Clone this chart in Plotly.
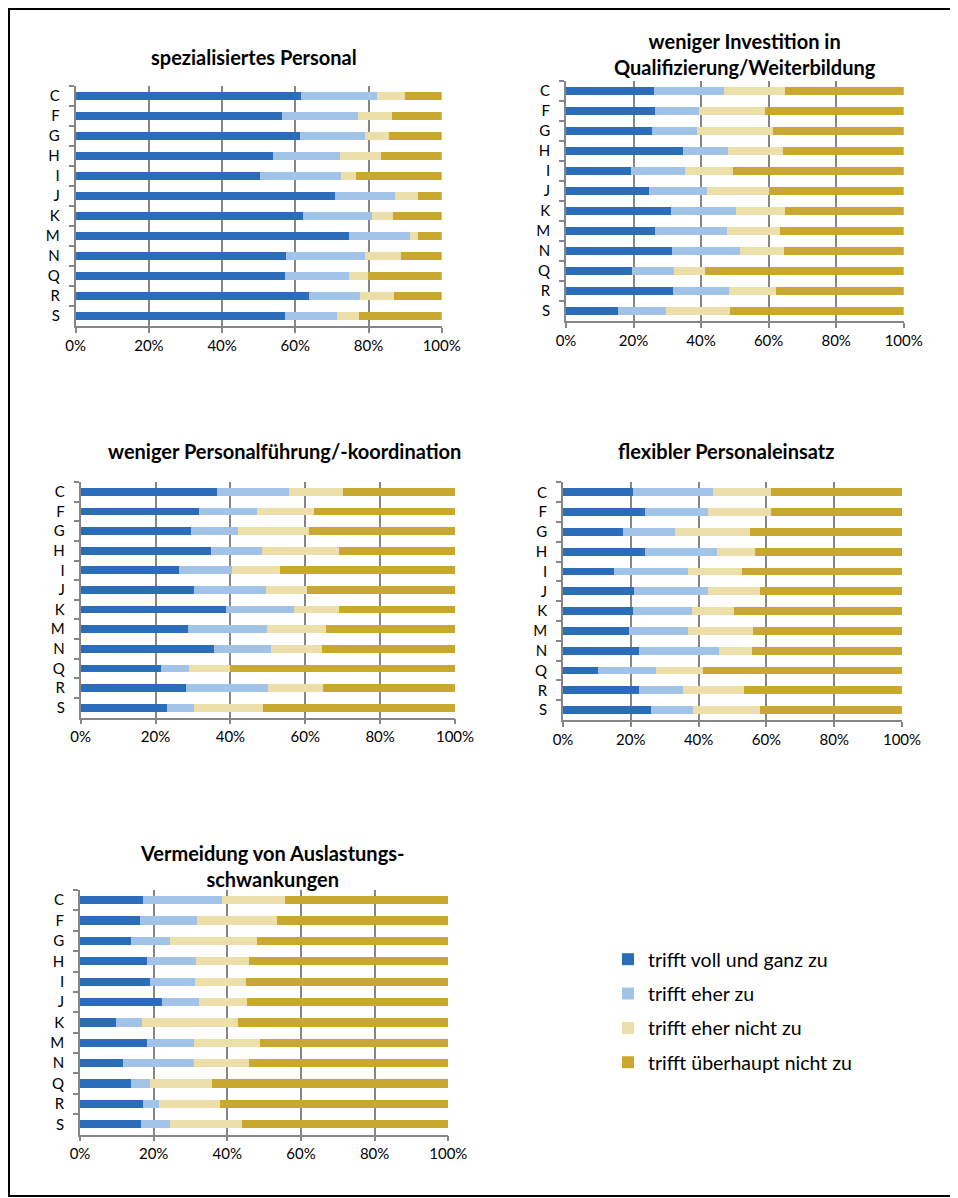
import plotly.graph_objects as go

# Browser window size and the page's default body margin
WIN_W, WIN_H = 958, 1198
OFF = 8
W, H = WIN_W - OFF, WIN_H - OFF

categories = ["C", "F", "G", "H", "I", "J", "K", "M", "N", "Q", "R", "S"]
series_names = ["trifft voll und ganz zu", "trifft eher zu",
                "trifft eher nicht zu", "trifft überhaupt nicht zu"]
series_colors = ["#2C6DB9", "#A2C3E8", "#EDDFAA", "#C9A82F"]
x_tickvals = [0, 20, 40, 60, 80, 100]
x_ticktext = ["0%", "20%", "40%", "60%", "80%", "100%"]

# Panel 1: spezialisiertes Personal
p1_voll = [61.5, 56.3, 61.3, 53.9, 50.4, 70.9, 62.1, 74.7, 57.4, 57.2, 63.8, 57.2]
p1_eher = [20.9, 20.7, 17.8, 18.2, 22.2, 16.4, 18.9, 16.6, 21.7, 17.5, 13.9, 14.2]
p1_ehernicht = [7.6, 9.3, 6.4, 11.3, 3.9, 6.1, 5.8, 2.2, 9.8, 5.1, 9.3, 6.1]
p1_ueberhaupt = [10.0, 13.7, 14.5, 16.6, 23.5, 6.6, 13.2, 6.5, 11.1, 20.2, 13.0, 22.5]

# Panel 2: weniger Investition in Qualifizierung/Weiterbildung
p2_voll = [26.0, 26.5, 25.5, 34.6, 19.2, 24.6, 31.1, 26.4, 31.4, 19.6, 31.8, 15.4]
p2_eher = [20.8, 12.9, 13.3, 13.4, 16.1, 17.2, 19.2, 21.3, 20.0, 12.4, 16.6, 14.2]
p2_ehernicht = [18.1, 19.5, 22.4, 16.3, 14.2, 18.2, 14.5, 15.7, 13.2, 9.3, 13.8, 19.0]
p2_ueberhaupt = [35.1, 41.1, 38.8, 35.7, 50.5, 40.0, 35.2, 36.6, 35.4, 58.7, 37.8, 51.4]

# Panel 3: weniger Personalführung/-koordination
p3_voll = [36.3, 31.5, 29.5, 34.7, 26.3, 30.3, 38.8, 28.6, 35.6, 21.5, 28.2, 23.1]
p3_eher = [19.4, 15.7, 12.4, 13.8, 14.2, 19.2, 18.2, 21.2, 15.2, 7.3, 21.9, 7.1]
p3_ehernicht = [14.5, 15.1, 19.0, 20.4, 12.8, 10.9, 12.1, 15.7, 13.7, 11.1, 14.6, 18.5]
p3_ueberhaupt = [29.8, 37.7, 39.1, 31.1, 46.7, 39.6, 30.9, 34.5, 35.5, 60.1, 35.3, 51.3]

# Panel 4: flexibler Personaleinsatz
p4_voll = [20.6, 24.2, 17.6, 24.2, 15.0, 20.9, 20.6, 19.4, 22.4, 10.3, 22.4, 26.1]
p4_eher = [23.7, 18.5, 15.5, 21.2, 22.0, 22.0, 17.5, 17.6, 23.6, 17.2, 13.0, 12.2]
p4_ehernicht = [17.1, 18.7, 22.2, 11.2, 15.8, 15.2, 12.3, 19.0, 9.8, 13.8, 18.0, 19.8]
p4_ueberhaupt = [38.6, 38.6, 44.7, 43.4, 47.2, 41.9, 49.6, 44.0, 44.2, 58.7, 46.6, 41.9]

# Panel 5: Vermeidung von Auslastungsschwankungen
p5_voll = [17.2, 16.3, 13.8, 18.2, 19.0, 22.3, 9.7, 18.2, 11.7, 13.8, 17.2, 16.6]
p5_eher = [21.4, 15.6, 10.6, 13.2, 12.3, 10.0, 7.0, 12.7, 19.2, 5.2, 4.2, 7.8]
p5_ehernicht = [17.1, 21.6, 23.7, 14.6, 13.7, 13.0, 26.2, 17.9, 15.1, 16.8, 16.5, 19.6]
p5_ueberhaupt = [44.3, 46.5, 51.9, 54.0, 55.0, 54.7, 57.1, 51.2, 54.0, 64.2, 62.1, 56.0]

panel_titles = [
    "spezialisiertes Personal",
    "weniger Investition in<br>Qualifizierung/Weiterbildung",
    "weniger Personalführung/-koordination",
    "flexibler Personaleinsatz",
    "Vermeidung von Auslastungs-<br>schwankungen",
]
panel_data = [
    [p1_voll, p1_eher, p1_ehernicht, p1_ueberhaupt],
    [p2_voll, p2_eher, p2_ehernicht, p2_ueberhaupt],
    [p3_voll, p3_eher, p3_ehernicht, p3_ueberhaupt],
    [p4_voll, p4_eher, p4_ehernicht, p4_ueberhaupt],
    [p5_voll, p5_eher, p5_ehernicht, p5_ueberhaupt],
]

# layout in window pixels: (x_left, x_right, y_top, y_bottom), title center (x, y)
panel_boxes = [
    (75.7, 441.7, 86.0, 326.0),
    (566.0, 903.7, 81.0, 321.0),
    (80.7, 455.0, 482.0, 717.5),
    (563.0, 902.0, 482.4, 720.0),
    (80.0, 448.3, 890.0, 1134.5),
]
title_pos = [(253.5, 57), (745, 54), (284.5, 451), (726, 451), (272, 866)]


def px(x):
    return (x - OFF) / W


def py(y):
    return 1 - (y - OFF) / H


FONT = "Lato"
GRID = "#868686"

fig = go.Figure()
layout_axes = {}
for i, (box, series) in enumerate(zip(panel_boxes, panel_data)):
    n = "" if i == 0 else str(i + 1)
    xa, ya = "x" + n, "y" + n
    for name, color, vals in zip(series_names, series_colors, series):
        fig.add_trace(go.Bar(
            x=vals, y=categories, orientation="h", name=name,
            marker=dict(color=color, line=dict(width=0)),
            xaxis=xa, yaxis=ya, legendgroup=name, showlegend=(i == 0),
            hoverinfo="x+y+name",
        ))
    xl, xr, yt, yb = box
    layout_axes["xaxis" + n] = dict(
        domain=[px(xl), px(xr)], anchor=ya, range=[0, 100],
        tickvals=x_tickvals, ticktext=x_ticktext,
        showgrid=True, gridcolor=GRID, gridwidth=1.8,
        showline=True, linecolor=GRID, linewidth=1.8,
        ticks="outside", ticklen=5, tickcolor=GRID, tickwidth=1.8,
        zeroline=False, fixedrange=True, automargin=False,
        tickfont=dict(family=FONT, size=15, color="#000000"),
    )
    layout_axes["yaxis" + n] = dict(
        domain=[py(yb), py(yt)], anchor=xa,
        categoryorder="array", categoryarray=categories,
        autorange="reversed",
        showgrid=False, showline=True, linecolor=GRID, linewidth=1.8,
        ticks="outside", ticklen=5, tickcolor=GRID, tickwidth=1.8,
        tickson="boundaries", ticklabelstandoff=11,
        zeroline=False, fixedrange=True, automargin=False,
        tickfont=dict(family=FONT, size=15, color="#000000"),
    )

annotations = []
for t, (tx, ty) in zip(panel_titles, title_pos):
    annotations.append(dict(
        text="<b>" + t + "</b>", x=px(tx), y=py(ty), xref="paper", yref="paper",
        xanchor="center", yanchor="middle", showarrow=False,
        font=dict(family=FONT, size=20, color="#000000"),
    ))

fig.update_layout(
    width=W, height=H,
    margin=dict(l=0, r=0, t=0, b=0),
    paper_bgcolor="#FFFFFF", plot_bgcolor="#FFFFFF",
    barmode="stack", bargap=0.6,
    font=dict(family=FONT, size=15, color="#000000"),
    showlegend=True,
    legend=dict(
        x=px(608), y=py(940), xanchor="left", yanchor="top",
        font=dict(family=FONT, size=19.5, color="#000000"),
        tracegroupgap=6, bgcolor="rgba(0,0,0,0)",
    ),
    annotations=annotations,
    shapes=[dict(type="rect", xref="paper", yref="paper",
                 x0=1 / W, x1=px(956), y0=py(1196), y1=1 - 1 / H,
                 line=dict(color="#000000", width=2))],
    **layout_axes,
)

fig.write_html("out.html")
